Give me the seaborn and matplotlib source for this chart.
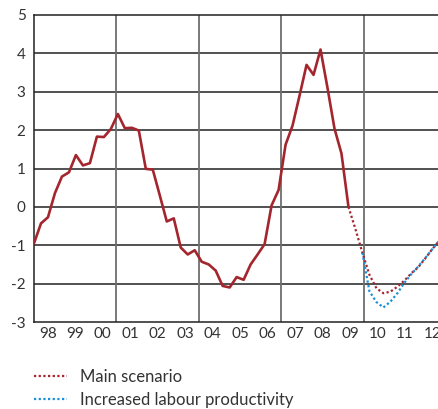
import numpy as np
import pandas as pd
import matplotlib
matplotlib.use("Agg")
import matplotlib.pyplot as plt
import seaborn as sns

# ---- data (quarterly, 1998Q1 .. 2012Q4) ----
years = ["98", "99", "00", "01", "02", "03", "04", "05", "06", "07", "08", "09", "10", "11", "12"]
history = [-0.95, -0.43, -0.27, 0.36, 0.79, 0.90, 1.35, 1.08, 1.14, 1.83, 1.82, 2.03,
           2.42, 2.05, 2.06, 1.99, 0.99, 0.97, 0.30, -0.38, -0.30, -1.06, -1.24, -1.13,
           -1.43, -1.50, -1.66, -2.06, -2.10, -1.83, -1.90, -1.50, -1.24, -0.97, 0.04, 0.44,
           1.62, 2.12, 2.90, 3.70, 3.44, 4.10, 3.10, 2.04, 1.39, 0.00]
main_scenario = [0.00, -0.58, -1.20, -1.77, -2.12, -2.25, -2.21, -2.08, -1.92, -1.73,
                 -1.57, -1.34, -1.10, -0.88, -0.68]
labour_prod = [-1.20, -2.20, -2.48, -2.62, -2.47, -2.25, -1.98, -1.75, -1.55, -1.33,
               -1.10, -0.88, -0.68]
labels = ["Main scenario", "Increased labour productivity"]

n_q = len(years) * 4
q_hist = np.arange(len(history))
q_main = np.arange(len(history) - 1, len(history) - 1 + len(main_scenario))
q_lab = np.arange(n_q - len(labour_prod), n_q)

df_hist = pd.DataFrame({"q": q_hist, "v": history})
df_main = pd.DataFrame({"q": q_main, "v": main_scenario})
df_lab = pd.DataFrame({"q": q_lab, "v": labour_prod})

sns.set_style("white")
plt.rcParams["font.family"] = ["Lato", "DejaVu Sans"]

RED = "#A3262E"
BLUE = "#1A8FD6"
TXT = "#333333"

fig = plt.figure(figsize=(4.38, 4.09), dpi=100)
ax = fig.add_axes([34 / 438, 87 / 409, 412.3 / 438, 307 / 409])

xmax = n_q - 1
bounds = np.linspace(0, xmax, len(years) + 1)
centers = (bounds[:-1] + bounds[1:]) / 2

# grid
for y in range(-2, 5):
    ax.axhline(y, color="#222222", lw=1.1, zorder=1)
for b in bounds[3:13:3]:
    ax.axvline(b, color="#6e6e6e", lw=1.3, zorder=1)

sns.lineplot(data=df_hist, x="q", y="v", ax=ax, color=RED, lw=1.9, zorder=3)
sns.lineplot(data=df_main, x="q", y="v", ax=ax, color=RED, lw=1.6,
             linestyle=(0, (1, 1.1)), zorder=3, label=labels[0])
sns.lineplot(data=df_lab, x="q", y="v", ax=ax, color=BLUE, lw=1.6,
             linestyle=(0, (1, 1.1)), zorder=4, label=labels[1])

ax.set_xlim(0, xmax)
ax.set_ylim(-3, 5)
ax.set_yticks(range(-3, 6))
ax.set_yticklabels([str(v) for v in range(-3, 6)])
ax.set_xticks(bounds[1:-1])
ax.set_xticklabels([])
ax.set_xticks(centers, minor=True)
ax.set_xticklabels(years, minor=True)
ax.tick_params(axis="x", which="major", direction="in", length=7.5, width=1.0,
               color="#888888", top=False)
ax.tick_params(axis="x", which="minor", length=0, pad=3.5, labelsize=11, labelcolor=TXT)
ax.tick_params(axis="y", length=0, pad=6, labelsize=11, labelcolor=TXT)
ax.set_xlabel("")
ax.set_ylabel("")
for s in ["left", "top", "bottom", "right"]:
    ax.spines[s].set_color("#222222")
    ax.spines[s].set_linewidth(1.1)

h, l = ax.get_legend_handles_labels()
ax.legend_.remove()
fig.legend(h, l, loc="upper left", bbox_to_anchor=(27 / 438, 1 - 362 / 409),
           frameon=False, fontsize=12, labelcolor=TXT, handlelength=2.0,
           handletextpad=0.75, labelspacing=0.42, borderaxespad=0)

fig.savefig("out.png", dpi=100)
